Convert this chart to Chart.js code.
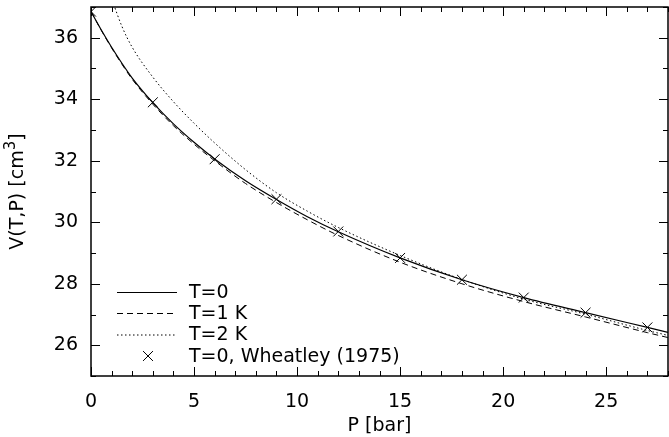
<!DOCTYPE html>
<html>
<head>
<meta charset="utf-8">
<script src="https://cdn.jsdelivr.net/npm/chart.js@4.4.1/dist/chart.umd.min.js"></script>
<style>
  html, body { margin: 0; padding: 0; background: #fff; }
</style>
</head>
<body>
<canvas id="volChart" width="669" height="437"></canvas>
<script>
// Pressure grid (bar) used for the three model curves
const pressure = [0, 0.5, 1, 1.5, 2, 3, 4, 5, 6, 7.5, 9, 10.5, 12, 15, 18, 21, 24, 27, 28];

// Molar volume (cm^3)
const volT0 = [36.85, 36.25, 35.69, 35.17, 34.69, 33.89, 33.2, 32.6, 32.06, 31.35, 30.74, 30.18, 29.69, 28.84, 28.13, 27.55, 27.06, 26.58, 26.42];
const volT1 = [36.85, 36.24, 35.67, 35.14, 34.65, 33.84, 33.14, 32.54, 32.0, 31.26, 30.64, 30.08, 29.57, 28.7, 28.0, 27.42, 26.92, 26.41, 26.25];
const volT2 = [39.45, 38.35, 37.29, 36.37, 35.69, 34.72, 33.92, 33.22, 32.58, 31.71, 30.96, 30.36, 29.83, 28.92, 28.14, 27.5, 27.01, 26.48, 26.32];

// Wheatley (1975) data points
const pWheatley = [0, 3, 6, 9, 12, 15, 18, 21, 24, 27];
const volWheatley = [36.85, 33.9, 32.05, 30.75, 29.7, 28.84, 28.13, 27.55, 27.06, 26.58];

const xTicks = [0, 5, 10, 15, 20, 25];
const yTicks = [26, 28, 30, 32, 34, 36];

const FONT = "'DejaVu Sans', sans-serif";
const fontSize = 19;

function pairs(xs, ys) {
  return xs.map((x, i) => ({ x: x, y: ys[i] }));
}

// box round the plot with inward ticks on all four sides
const frameTicks = {
  id: "frameTicks",
  afterDatasetsDraw(chart) {
    const { ctx, chartArea: a, scales } = chart;
    const xs = scales.x, ys = scales.y;
    ctx.save();
    ctx.strokeStyle = "#000";
    ctx.lineWidth = 1;
    ctx.beginPath();
    for (let v = xs.min; v <= xs.max; v += 1) {
      const px = Math.round(xs.getPixelForValue(v)) + 0.5;
      const len = v % 5 === 0 ? 9 : 5;
      ctx.moveTo(px, a.bottom); ctx.lineTo(px, a.bottom - len);
      ctx.moveTo(px, a.top); ctx.lineTo(px, a.top + len);
    }
    for (let v = ys.min; v <= ys.max; v += 1) {
      const py = Math.round(ys.getPixelForValue(v)) + 0.5;
      const len = v % 2 === 0 ? 9 : 5;
      ctx.moveTo(a.left, py); ctx.lineTo(a.left + len, py);
      ctx.moveTo(a.right, py); ctx.lineTo(a.right - len, py);
    }
    ctx.stroke();
    ctx.lineWidth = 1.5;
    ctx.strokeRect(a.left, a.top, a.right - a.left, a.bottom - a.top);

    // y axis title with superscript
    ctx.translate(18, (a.top + a.bottom) / 2);
    ctx.rotate(-Math.PI / 2);
    ctx.fillStyle = "#000";
    ctx.textBaseline = "middle";
    const main = "V(T,P) [cm";
    ctx.font = fontSize + "px " + FONT;
    const w1 = ctx.measureText(main).width;
    ctx.font = Math.round(fontSize * 0.8) + "px " + FONT;
    const w2 = ctx.measureText("3").width;
    ctx.font = fontSize + "px " + FONT;
    const w3 = ctx.measureText("]").width;
    let x0 = -(w1 + w2 + w3) / 2;
    ctx.textAlign = "left";
    ctx.fillText(main, x0, 0);
    ctx.font = Math.round(fontSize * 0.8) + "px " + FONT;
    ctx.fillText("3", x0 + w1, -7);
    ctx.font = fontSize + "px " + FONT;
    ctx.fillText("]", x0 + w1 + w2, 0);
    ctx.restore();
  }
};

// legend drawn inside the plot, lower left
const insideLegend = {
  id: "insideLegend",
  afterDraw(chart) {
    const ctx = chart.ctx;
    const rows = [292, 313, 334.5, 356];
    ctx.save();
    ctx.font = fontSize + "px " + FONT;
    ctx.fillStyle = "#000";
    ctx.textBaseline = "middle";
    chart.data.datasets.forEach((ds, i) => {
      const y = rows[i];
      ctx.strokeStyle = "#000";
      ctx.lineWidth = 1;
      if (ds.showLine) {
        ctx.setLineDash(ds.borderDash || []);
        ctx.beginPath();
        ctx.moveTo(117, y + 0.5);
        ctx.lineTo(177, y + 0.5);
        ctx.stroke();
        ctx.setLineDash([]);
      } else {
        Chart.helpers.drawPoint(ctx, { pointStyle: "crossRot", radius: 7, borderWidth: 1 }, 148, y);
      }
      ctx.fillText(ds.label, 189, y + 1);
    });
    ctx.restore();
  }
};

new Chart(document.getElementById("volChart").getContext("2d"), {
  type: "scatter",
  data: {
    datasets: [
      {
        label: "T=0",
        data: pairs(pressure, volT0),
        showLine: true,
        borderColor: "#000",
        borderWidth: 1.2,
        pointRadius: 0,
        cubicInterpolationMode: "monotone"
      },
      {
        label: "T=1 K",
        data: pairs(pressure, volT1),
        showLine: true,
        borderColor: "#000",
        borderWidth: 1,
        borderDash: [6, 4],
        pointRadius: 0,
        cubicInterpolationMode: "monotone"
      },
      {
        label: "T=2 K",
        data: pairs(pressure, volT2),
        showLine: true,
        borderColor: "#000",
        borderWidth: 1,
        borderDash: [1.5, 2.5],
        pointRadius: 0,
        cubicInterpolationMode: "monotone"
      },
      {
        label: "T=0, Wheatley (1975)",
        data: pairs(pWheatley, volWheatley),
        showLine: false,
        pointStyle: "crossRot",
        pointRadius: 7,
        pointBorderWidth: 1,
        borderColor: "#000",
        backgroundColor: "#000"
      }
    ]
  },
  options: {
    responsive: false,
    animation: false,
    devicePixelRatio: 1,
    layout: { autoPadding: false, padding: { top: 7, right: 1, left: 0, bottom: 0 } },
    plugins: {
      legend: { display: false },
      tooltip: { enabled: false }
    },
    scales: {
      x: {
        type: "linear",
        min: 0,
        max: 28,
        afterBuildTicks: (s) => { s.ticks = xTicks.map((v) => ({ value: v })); },
        afterFit: (s) => { s.height = 61; s.paddingLeft = 0; s.paddingRight = 0; },
        grid: { display: false, drawTicks: false },
        border: { display: false },
        ticks: { color: "#000", font: { family: FONT, size: fontSize }, padding: 15, maxRotation: 0, autoSkip: false },
        title: { display: true, text: "P [bar]", color: "#000", font: { family: FONT, size: fontSize }, padding: 0 }
      },
      y: {
        min: 25,
        max: 37,
        afterBuildTicks: (s) => { s.ticks = yTicks.map((v) => ({ value: v })); },
        afterFit: (s) => { s.width = 91; s.paddingTop = 0; s.paddingBottom = 0; },
        grid: { display: false, drawTicks: false },
        border: { display: false },
        ticks: { color: "#000", font: { family: FONT, size: fontSize }, padding: 13, autoSkip: false }
      }
    }
  },
  plugins: [frameTicks, insideLegend]
});
</script>
</body>
</html>
